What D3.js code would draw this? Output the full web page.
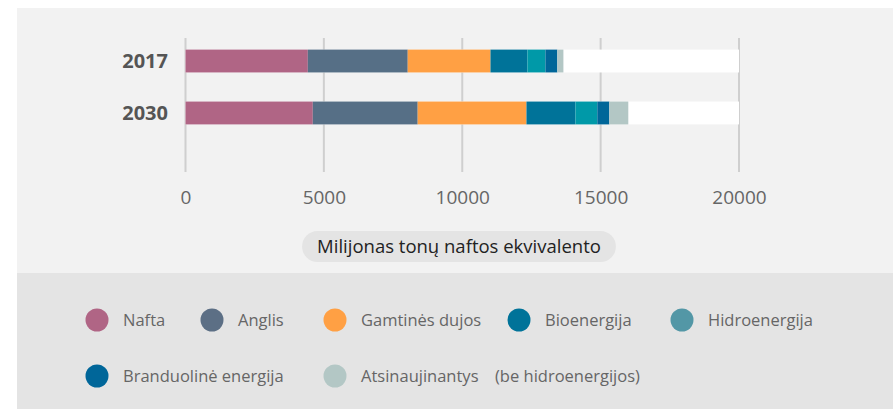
<!DOCTYPE html>
<html><head><meta charset="utf-8">
<script src="https://cdn.jsdelivr.net/npm/d3@7"></script>
<style>
body{margin:0;background:#fff;}
svg{display:block;font-family:"Open Sans","Noto Sans",sans-serif;}
</style></head>
<body><svg id="c" width="893" height="409"></svg>
<script>
const years = ["2017", "2030"];
const seriesNames = ["Nafta", "Anglis", "Gamtinės dujos", "Bioenergija", "Hidroenergija", "Branduolinė energija", "Atsinaujinantys"];
const nafta = [4420, 4600];
const anglis = [3610, 3790];
const dujos = [2990, 3930];
const bio = [1335, 1770];
const hidro = [650, 790];
const branduoline = [430, 435];
const atsinaujinantys = [220, 685];
const barColors = ["#b06585", "#566f86", "#ffa044", "#007399", "#0099a8", "#006699", "#b3c7c5"];
const legendColors = ["#b06585", "#5c6f85", "#ffa044", "#007399", "#5397a6", "#006699", "#b3c7c5"];
const legendLabels = ["Nafta", "Anglis", "Gamtinės dujos", "Bioenergija", "Hidroenergija", "Branduolinė energija", "Atsinaujinantys\u2003(be hidroenergijos)"];
const xTicks = [0, 5000, 10000, 15000, 20000];
const xMax = 20000;
const axisTitle = "Milijonas tonų naftos ekvivalento";

const values = [nafta, anglis, dujos, bio, hidro, branduoline, atsinaujinantys];
const rows = years.map((y, i) => {
  const o = {year: y};
  seriesNames.forEach((s, k) => o[s] = values[k][i]);
  return o;
});
const stacked = d3.stack().keys(seriesNames)(rows);

const svg = d3.select("#c");
// panels
svg.append("rect").attr("x", 17).attr("y", 8).attr("width", 876).attr("height", 265).attr("fill", "#f2f2f2");
svg.append("rect").attr("x", 17).attr("y", 273).attr("width", 876).attr("height", 136).attr("fill", "#e4e4e4");

const x = d3.scaleLinear().domain([0, xMax]).range([185.5, 739]);
const y = d3.scaleBand().domain(years).range([34, 140]).paddingInner(0.56).paddingOuter(0.3);

// gridlines
svg.append("g").selectAll("line").data(xTicks).join("line")
  .attr("x1", d => x(d)).attr("x2", d => x(d))
  .attr("y1", 38).attr("y2", 172)
  .attr("stroke", "#cfcfcf").attr("stroke-width", 2);

// white background bars
svg.append("g").selectAll("rect").data(years).join("rect")
  .attr("x", x(0)).attr("width", x(xMax) - x(0))
  .attr("y", d => y(d)).attr("height", y.bandwidth())
  .attr("fill", "#fff");

// stacked bars
svg.append("g").selectAll("g").data(stacked).join("g")
  .attr("fill", (d, i) => barColors[i])
  .selectAll("rect").data(d => d).join("rect")
  .attr("x", d => x(d[0])).attr("width", d => x(d[1]) - x(d[0]))
  .attr("y", d => y(d.data.year)).attr("height", y.bandwidth());

// y labels
svg.append("g").selectAll("text").data(years).join("text")
  .attr("x", 168).attr("y", d => y(d) + y.bandwidth() / 2)
  .attr("dy", "0.35em").attr("text-anchor", "end")
  .attr("font-size", 20).attr("font-weight", "bold").attr("fill", "#555")
  .text(d => d);

// x axis tick labels
const xAxis = d3.axisBottom(x).tickValues(xTicks).tickSize(0).tickPadding(0).tickFormat(d3.format("d"));
const gx = svg.append("g").attr("transform", "translate(0,190)").call(xAxis);
gx.select(".domain").remove();
gx.selectAll("text").attr("font-size", 19).attr("fill", "#666").attr("font-family", "Open Sans, sans-serif");

// axis title pill
const tg = svg.append("g");
const tt = tg.append("text").attr("x", 459).attr("y", 247).attr("dy", "0.35em")
  .attr("text-anchor", "middle").attr("font-size", 18.5).attr("fill", "#222").text(axisTitle);
const bb = tt.node().getBBox();
tg.insert("rect", "text").attr("x", bb.x - 15).attr("y", 231).attr("width", bb.width + 30).attr("height", 31)
  .attr("rx", 15.5).attr("fill", "#e4e4e4");

// legend
const legendPos = [[97, 320], [212, 320], [335, 320], [519, 320], [682, 320], [97, 376], [335, 376]];
const lg = svg.append("g").selectAll("g").data(legendLabels).join("g")
  .attr("transform", (d, i) => `translate(${legendPos[i][0]},${legendPos[i][1]})`);
lg.append("circle").attr("r", 11.5).attr("fill", (d, i) => legendColors[i]);
lg.append("text").attr("x", 26).attr("dy", "0.35em").attr("font-size", 16.5).attr("fill", "#666")
  .text(d => d);
</script></body></html>
